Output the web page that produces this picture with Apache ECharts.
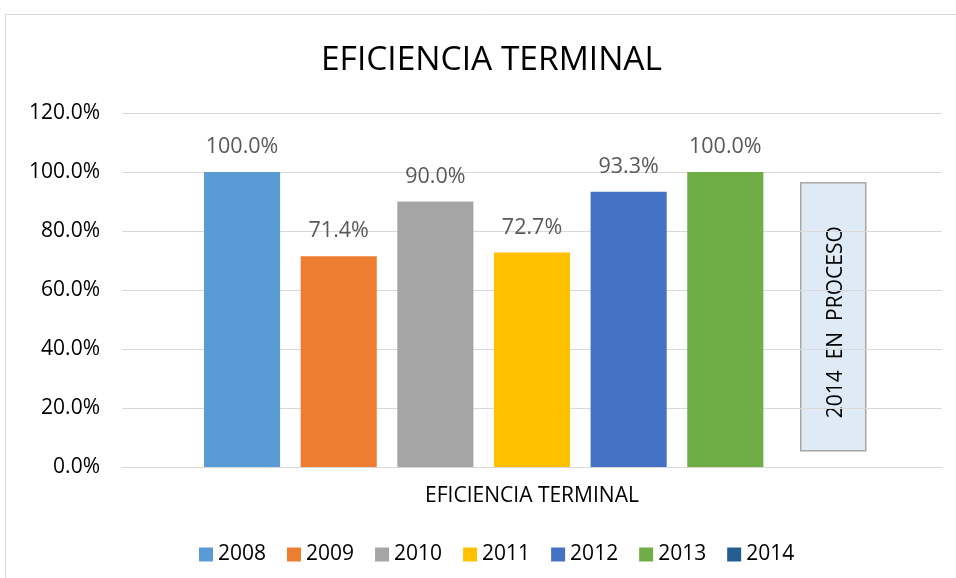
<!DOCTYPE html>
<html>
<head>
<meta charset="utf-8">
<script src="https://cdn.jsdelivr.net/npm/echarts@6/dist/echarts.min.js"></script>
<style>html,body{margin:0;padding:0;background:#fff}#c{width:956px;height:578px}</style>
</head>
<body>
<div id="c"></div>
<script>
var categories = ['EFICIENCIA TERMINAL'];
var years = ['2008','2009','2010','2011','2012','2013','2014'];
var values = [100.0, 71.4, 90.0, 72.7, 93.3, 100.0, null];
var colors = ['#5b9bd5','#ed7d31','#a5a5a5','#ffc000','#4472c4','#70ad47','#255e91'];
var yTicks = [0, 20, 40, 60, 80, 100, 120];
var note = '2014  EN  PROCESO';

var FONT = '"Open Sans", "Noto Sans", sans-serif';
var chart = echarts.init(document.getElementById('c'));
var series = years.map(function (y, i) {
  return {
    name: y,
    type: 'bar',
    barGap: '27%',
    barCategoryGap: '20%',
    itemStyle: { color: colors[i] },
    label: {
      show: true,
      position: 'top',
      distance: 14,
      color: '#595959',
      fontFamily: FONT,
      fontSize: 21.5,
      formatter: function (p) { return p.value == null ? '' : Number(p.value).toFixed(1) + '%'; }
    },
    data: [values[i]]
  };
});
chart.setOption({
  animation: false,
  backgroundColor: '#fff',
  title: {
    text: 'EFICIENCIA TERMINAL',
    left: 316,
    top: 38,
    textStyle: { fontFamily: FONT, fontSize: 33.5, fontWeight: 'normal', color: '#000' }
  },
  grid: { left: 122, right: 14, top: 113, bottom: 111 },
  legend: {
    data: years,
    top: 539,
    left: 194,
    itemWidth: 14,
    itemHeight: 14,
    itemGap: 21,
    icon: 'rect',
    textStyle: { fontFamily: FONT, fontSize: 21, color: '#000' }
  },
  xAxis: {
    type: 'category',
    data: categories,
    axisLine: { lineStyle: { color: '#d9d9d9' } },
    axisTick: { show: false },
    axisLabel: { margin: 19, fontFamily: FONT, fontSize: 21, color: '#000' }
  },
  yAxis: {
    type: 'value',
    min: yTicks[0],
    max: yTicks[yTicks.length - 1],
    interval: yTicks[1] - yTicks[0],
    axisLine: { show: false },
    axisTick: { show: false },
    splitLine: { lineStyle: { color: '#d9d9d9' } },
    axisLabel: {
      margin: 22,
      fontFamily: FONT,
      fontSize: 21,
      color: '#000',
      formatter: function (v) { return v.toFixed(1) + '%'; }
    }
  },
  graphic: [
    {
      type: 'rect',
      silent: true,
      shape: { x: 5.5, y: 14.5, width: 1000, height: 620 },
      style: { fill: 'none', stroke: '#d9d9d9', lineWidth: 1 },
      z: 100
    },
    {
      type: 'group',
      left: 800,
      top: 182,
      z: 100,
      children: [
        {
          type: 'rect',
          shape: { x: 0.5, y: 0.5, width: 65, height: 268 },
          style: { fill: '#deebf7', stroke: '#a6a6a6', lineWidth: 1.5 }
        },
        {
          type: 'text',
          x: 36,
          y: 140,
          rotation: Math.PI / 2,
          style: {
            text: note,
            fontFamily: FONT,
            fontSize: 21,
            fill: '#000',
            align: 'center',
            verticalAlign: 'middle'
          }
        }
      ]
    }
  ],
  series: series
});
</script>
</body>
</html>
